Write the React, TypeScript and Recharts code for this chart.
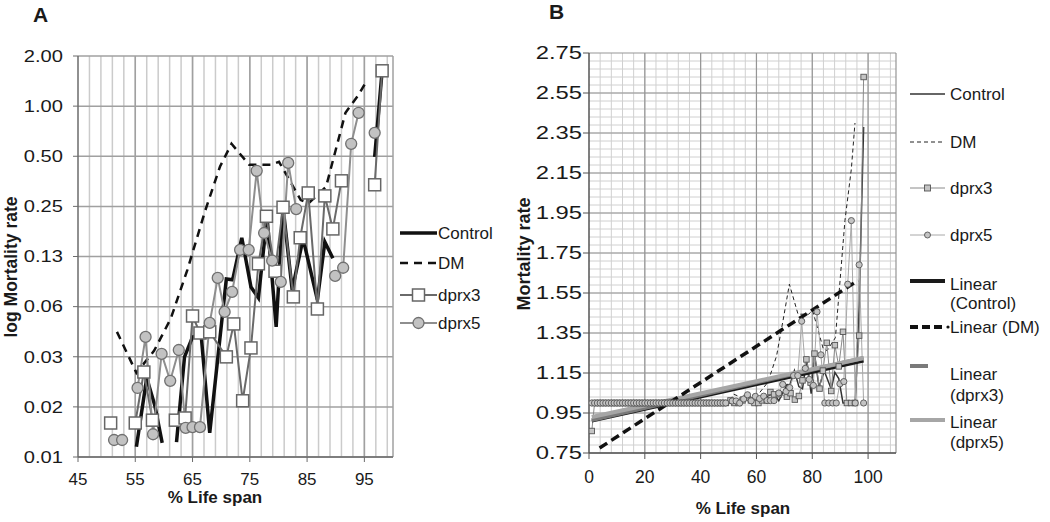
import React from 'react';
import { LineChart, Line, XAxis, YAxis, CartesianGrid } from 'recharts';

const FONT = 'Arial, "Liberation Sans", Helvetica, sans-serif';

// ---------------- Panel A (log scale) ----------------
const aYTickValues = [0.0078125, 0.015625, 0.03125, 0.0625, 0.125, 0.25, 0.5, 1, 2];
const aYTickLabels = ['0.01', '0.02', '0.03', '0.06', '0.13', '0.25', '0.50', '1.00', '2.00'];
const aXTicks = [45, 55, 65, 75, 85, 95];

const aControlX = [55.2, 57.0, 58.4, 59.7, 61.0, 62.2, 63.6, 65.0, 66.5, 68.0, 70.9, 72.0, 73.6, 75.2, 76.5, 78.0, 79.6, 80.8, 82.4, 84.3, 86.8, 88.1, 89.5, 93.0, 96.8, 98.1];
const aControlRate = [0.009, 0.0233, 0.016, 0.0095, null, 0.0096, 0.0312, 0.0411, 0.0423, 0.0109, 0.0917, 0.0905, 0.162, 0.082, 0.0705, 0.216, 0.0472, 0.247, 0.0787, 0.16, 0.0686, 0.153, 0.122, null, 0.496, 1.63];

const aDmX = [51.8, 55.2, 58.3, 61.2, 64.1, 67.2, 69.8, 71.8, 74.9, 78.7, 80.1, 83.9, 85.3, 88.3, 91.7, 94.0, 95.3];
const aDmRate = [0.0441, 0.025, 0.034, 0.053, 0.104, 0.235, 0.434, 0.594, 0.444, 0.444, 0.463, 0.273, 0.262, 0.327, 0.912, 1.17, 1.4];

const aDprx3X = [50.7, 53.0, 55.0, 56.5, 58.0, 60.0, 62.0, 63.7, 65.0, 66.3, 68.0, 70.9, 72.2, 73.75, 75.2, 76.5, 77.9, 79.4, 80.8, 82.6, 83.8, 85.2, 86.8, 88.1, 89.5, 91.0, 94.0, 96.8, 98.1];
const aDprx3Rate = [0.0125, null, 0.0125, 0.0253, 0.013, null, 0.013, 0.0134, 0.0549, 0.0434, 0.0441, 0.0312, 0.0492, 0.017, 0.0353, 0.113, 0.218, 0.102, 0.247, 0.0715, 0.162, 0.301, 0.0605, 0.289, 0.183, 0.356, null, 0.337, 1.63];

const aDprx5X = [51.3, 52.7, 54.0, 55.4, 56.8, 58.1, 59.6, 61.1, 62.6, 63.8, 65.0, 66.3, 68.0, 69.4, 70.6, 71.9, 73.3, 74.8, 76.2, 77.5, 78.9, 80.4, 81.7, 83.1, 86.0, 89.9, 91.3, 92.7, 94.0, 95.5, 96.8];
const aDprx5Rate = [0.00988, 0.00988, null, 0.0203, 0.0411, 0.0107, 0.0325, 0.0224, 0.0343, 0.0117, 0.0118, 0.0118, 0.0499, 0.093, 0.0581, 0.0766, 0.137, 0.137, 0.409, 0.173, 0.118, 0.088, 0.456, 0.241, null, 0.0956, 0.107, 0.594, 0.912, null, 0.691];

// ---------------- Panel B (linear scale) ----------------
const bYTicks = [0.75, 0.95, 1.15, 1.35, 1.55, 1.75, 1.95, 2.15, 2.35, 2.55, 2.75];
const bXTicks = [0, 20, 40, 60, 80, 100];

const bControlX = [1, 2, 3, 4, 5, 6, 7, 8, 9, 10, 11, 12, 13, 14, 15, 16, 17, 18, 19, 20, 21, 22, 23, 24, 25, 26, 27, 28, 29, 30, 31, 32, 33, 34, 35, 36, 37, 38, 39, 40, 41, 42, 43, 44, 45, 46, 47, 48, 49, 50, 51, 52, 53, 54,
  55.2, 57.0, 58.4, 59.7, 61.0, 62.2, 63.6, 65.0, 66.5, 68.0, 70.9, 72.0, 73.6, 75.2, 76.5, 78.0, 79.6, 80.8, 82.4, 84.3, 86.8, 88.1, 89.5, 91.0, 92.5, 94.0, 95.4, 96.8, 98.4];
const bControlRate = [1, 1, 1, 1, 1, 1, 1, 1, 1, 1, 1, 1, 1, 1, 1, 1, 1, 1, 1, 1, 1, 1, 1, 1, 1, 1, 1, 1, 1, 1, 1, 1, 1, 1, 1, 1, 1, 1, 1, 1, 1, 1, 1, 1, 1, 1, 1, 1, 1, 1, 1, 1, 1, 1,
  1.009, 1.023, 1.016, 1.01, 1.0, 1.01, 1.031, 1.041, 1.042, 1.011, 1.092, 1.091, 1.162, 1.082, 1.071, 1.216, 1.047, 1.247, 1.079, 1.16, 1.069, 1.153, 1.122, 1.0, 1.0, 1.0, 1.0, 1.496, 2.38];

const bDmX = [1, 50, 51.8, 55.2, 58.3, 61.2, 64.1, 67.2, 69.8, 71.8, 74.9, 78.7, 80.1, 83.9, 85.3, 88.3, 91.7, 94.0, 95.3];
const bDmRate = [1, 1, 1.044, 1.025, 1.034, 1.053, 1.104, 1.235, 1.434, 1.594, 1.444, 1.444, 1.463, 1.273, 1.262, 1.327, 1.912, 2.17, 2.4];

const bDprx3X = [1, 2, 3, 4, 5, 6, 7, 8, 9, 10, 11, 12, 13, 14, 15, 16, 17, 18, 19, 20, 21, 22, 23, 24, 25, 26, 27, 28, 29, 30, 31, 32, 33, 34, 35, 36, 37, 38, 39, 40, 41, 42, 43, 44, 45, 46, 47, 48, 49,
  50.7, 52.1, 53.6, 55.0, 56.5, 58.0, 59.3, 60.7, 62.0, 63.7, 65.0, 66.3, 68.0, 70.9, 72.2, 73.75, 75.2, 76.5, 77.9, 79.4, 80.8, 82.6, 83.8, 85.2, 86.8, 88.1, 89.5, 91.0, 92.4, 93.9, 95.3, 96.8, 98.4];
const bDprx3Rate = [0.86, 1, 1, 1, 1, 1, 1, 1, 1, 1, 1, 1, 1, 1, 1, 1, 1, 1, 1, 1, 1, 1, 1, 1, 1, 1, 1, 1, 1, 1, 1, 1, 1, 1, 1, 1, 1, 1, 1, 1, 1, 1, 1, 1, 1, 1, 1, 1, 1,
  1.013, 1.0, 1.0, 1.013, 1.025, 1.013, 1.0, 1.0, 1.013, 1.013, 1.055, 1.043, 1.044, 1.031, 1.049, 1.017, 1.035, 1.113, 1.218, 1.102, 1.247, 1.072, 1.162, 1.301, 1.06, 1.289, 1.183, 1.356, 1.0, 1.0, 1.0, 1.337, 2.63];

const bDprx5X = [1, 2, 3, 4, 5, 6, 7, 8, 9, 10, 11, 12, 13, 14, 15, 16, 17, 18, 19, 20, 21, 22, 23, 24, 25, 26, 27, 28, 29, 30, 31, 32, 33, 34, 35, 36, 37, 38, 39, 40, 41, 42, 43, 44, 45, 46, 47, 48, 49,
  51.3, 52.7, 54.0, 55.4, 56.8, 58.1, 59.6, 61.1, 62.6, 63.8, 65.0, 66.3, 68.0, 69.4, 70.6, 71.9, 73.3, 74.8, 76.2, 77.5, 78.9, 80.4, 81.7, 83.1, 84.5, 85.9, 87.3, 88.6, 89.9, 91.3, 92.7, 94.0, 95.4, 96.8, 98.4];
const bDprx5Rate = [1, 1, 1, 1, 1, 1, 1, 1, 1, 1, 1, 1, 1, 1, 1, 1, 1, 1, 1, 1, 1, 1, 1, 1, 1, 1, 1, 1, 1, 1, 1, 1, 1, 1, 1, 1, 1, 1, 1, 1, 1, 1, 1, 1, 1, 1, 1, 1, 1,
  1.01, 1.01, 1.0, 1.02, 1.041, 1.011, 1.033, 1.022, 1.034, 1.012, 1.012, 1.012, 1.05, 1.093, 1.058, 1.077, 1.137, 1.137, 1.409, 1.173, 1.118, 1.088, 1.456, 1.241, 1.0, 1.0, 1.0, 1.0, 1.096, 1.107, 1.594, 1.912, 1.0, 1.691, 1.0];

// linear trendline end points
const bTrendControlX = [1, 98.4];
const bTrendControlRate = [0.91, 1.21];
const bTrendDmX = [3.8, 96.4];
const bTrendDmRate = [0.775, 1.613];
const bTrendDprx3X = [1, 98.4];
const bTrendDprx3Rate = [0.915, 1.225];
const bTrendDprx5X = [1, 98.4];
const bTrendDprx5Rate = [0.93, 1.225];

const zip = (xs: number[], ys: (number | null)[]) => xs.map((x, i) => ({ x, y: ys[i] }));

// grid helpers (styling only)
const range = (a: number, b: number, s: number) => {
  const out: number[] = [];
  for (let v = a; v <= b + 1e-9; v += s) out.push(Math.round(v * 1000) / 1000);
  return out;
};
const aGridMinorX = range(47, 99, 2);
const aGridMajorX = [55, 65, 75, 85, 95, 100];
const bGridMinorX = range(4, 108, 4);
const bGridMajorX = [20, 40, 60, 80, 100, 110];
const bGridMinorY = range(0.79, 2.71, 0.04);

const squareDot = (size: number, fill: string, stroke: string, sw: number) => (p: any) => {
  const k = `sq-${p.index}`;
  if (p.cx == null || p.cy == null || p.payload == null || p.payload.y == null || isNaN(p.cy)) return <g key={k} />;
  return <rect key={k} x={p.cx - size / 2} y={p.cy - size / 2} width={size} height={size} fill={fill} stroke={stroke} strokeWidth={sw} />;
};
const circleDot = (r: number, fill: string, stroke: string, sw: number) => (p: any) => {
  const k = `ci-${p.index}`;
  if (p.cx == null || p.cy == null || p.payload == null || p.payload.y == null || isNaN(p.cy)) return <g key={k} />;
  return <circle key={k} cx={p.cx} cy={p.cy} r={r} fill={fill} stroke={stroke} strokeWidth={sw} />;
};

const aYTick = (p: any) => (
  <text key={`ay-${p.index}`} transform={`translate(${p.x - 8},${p.y}) scale(1.22,1)`} textAnchor="end" dominantBaseline="central" fontSize={16.5} fontFamily={FONT} fill="#1a1a1a">
    {aYTickLabels[p.index]}
  </text>
);
const aXTick = (p: any) => (
  <text key={`ax-${p.index}`} x={p.x} y={p.y + 15} textAnchor="middle" dominantBaseline="central" fontSize={17} fontFamily={FONT} fill="#1a1a1a">
    {p.payload.value}
  </text>
);
const bYTick = (p: any) => (
  <text key={`by-${p.index}`} transform={`translate(${p.x + 1},${p.y}) scale(1.36,1)`} textAnchor="end" dominantBaseline="central" fontSize={17.5} fontFamily={FONT} fill="#1a1a1a">
    {Number(p.payload.value).toFixed(2)}
  </text>
);
const bXTick = (p: any) => (
  <text key={`bx-${p.index}`} x={p.x} y={p.y + 16} textAnchor="middle" dominantBaseline="central" fontSize={17.5} fontFamily={FONT} fill="#1a1a1a">
    {p.payload.value}
  </text>
);

export default function App() {
  const aControl = zip(aControlX, aControlRate);
  const aDm = zip(aDmX, aDmRate);
  const aDprx3 = zip(aDprx3X, aDprx3Rate);
  const aDprx5 = zip(aDprx5X, aDprx5Rate);

  const bControl = zip(bControlX, bControlRate);
  const bDm = zip(bDmX, bDmRate);
  const bDprx3 = zip(bDprx3X, bDprx3Rate);
  const bDprx5 = zip(bDprx5X, bDprx5Rate);
  const bTC = zip(bTrendControlX, bTrendControlRate);
  const bTD = zip(bTrendDmX, bTrendDmRate);
  const bT3 = zip(bTrendDprx3X, bTrendDprx3Rate);
  const bT5 = zip(bTrendDprx5X, bTrendDprx5Rate);

  const txt = { fontFamily: FONT, fill: '#1a1a1a' } as const;

  return (
    <div style={{ position: 'absolute', left: 0, top: 0, width: 1050, height: 522, background: '#fff', overflow: 'hidden' }}>
      <div style={{ position: 'absolute', left: 0, top: 0 }}>
        <LineChart width={500} height={522} margin={{ top: 56, right: 107, bottom: 35, left: 8 }}>
          <CartesianGrid horizontal={false} vertical verticalValues={aGridMinorX} stroke="#cbcbcb" strokeWidth={1.5} />
          <CartesianGrid horizontal={false} vertical verticalValues={aGridMajorX} stroke="#a0a0a0" strokeWidth={1.5} />
          <CartesianGrid vertical={false} horizontal horizontalValues={aYTickValues} stroke="#a0a0a0" strokeWidth={1.5} />
          <XAxis type="number" dataKey="x" domain={[45, 100]} ticks={aXTicks} interval={0} allowDataOverflow height={30} tickSize={5}
            axisLine={{ stroke: '#6b6b6b', strokeWidth: 1.5 }} tickLine={{ stroke: '#6b6b6b' }} tick={aXTick} />
          <YAxis type="number" scale="log" domain={[0.0078125, 2]} ticks={aYTickValues} interval={0} allowDataOverflow width={70} tickSize={5}
            axisLine={{ stroke: '#6b6b6b', strokeWidth: 1.5 }} tickLine={{ stroke: '#6b6b6b' }} tick={aYTick} />
          <Line data={aControl} dataKey="y" type="linear" stroke="#111" strokeWidth={3.5} dot={false} connectNulls={false} isAnimationActive={false} />
          <Line data={aDm} dataKey="y" type="linear" stroke="#111" strokeWidth={2.5} strokeDasharray="8 6" dot={false} connectNulls={false} isAnimationActive={false} />
          <Line data={aDprx3} dataKey="y" type="linear" stroke="#6a6a6a" strokeWidth={2} dot={squareDot(12, '#ffffff', '#666', 1.5)} connectNulls={false} isAnimationActive={false} />
          <Line data={aDprx5} dataKey="y" type="linear" stroke="#8e8e8e" strokeWidth={2} dot={circleDot(5.5, '#c2c2c2', '#707070', 1.3)} connectNulls={false} isAnimationActive={false} />
        </LineChart>
      </div>

      <div style={{ position: 'absolute', left: 500, top: 0 }}>
        <LineChart width={550} height={522} margin={{ top: 53, right: 154, bottom: 39, left: 9 }}>
          <CartesianGrid vertical={false} horizontal horizontalValues={bGridMinorY} stroke="#d0d0d0" strokeWidth={1} />
          <CartesianGrid horizontal={false} vertical verticalValues={bGridMinorX} stroke="#d0d0d0" strokeWidth={1} />
          <CartesianGrid vertical={false} horizontal horizontalValues={bYTicks} stroke="#959595" strokeWidth={1.2} />
          <CartesianGrid horizontal={false} vertical verticalValues={bGridMajorX} stroke="#959595" strokeWidth={1.2} />
          <XAxis type="number" dataKey="x" domain={[0, 110]} ticks={bXTicks} interval={0} allowDataOverflow height={30} tickSize={6}
            axisLine={{ stroke: '#555', strokeWidth: 1.5 }} tickLine={{ stroke: '#555' }} tick={bXTick} />
          <YAxis type="number" domain={[0.75, 2.75]} ticks={bYTicks} interval={0} allowDataOverflow width={80} tickSize={6}
            axisLine={{ stroke: '#555', strokeWidth: 1.5 }} tickLine={{ stroke: '#555' }} tick={bYTick} />
          <Line data={bControl} dataKey="y" type="linear" stroke="#333" strokeWidth={1.5} dot={false} isAnimationActive={false} />
          <Line data={bDm} dataKey="y" type="linear" stroke="#222" strokeWidth={1} strokeDasharray="4 3" dot={false} isAnimationActive={false} />
          <Line data={bDprx3} dataKey="y" type="linear" stroke="#8a8a8a" strokeWidth={1} dot={squareDot(5.5, '#c4c4c4', '#555', 0.9)} isAnimationActive={false} />
          <Line data={bDprx5} dataKey="y" type="linear" stroke="#a8a8a8" strokeWidth={1} dot={circleDot(3.1, '#c4c4c4', '#555', 0.9)} isAnimationActive={false} />
          <Line data={bTC} dataKey="y" type="linear" stroke="#1a1a1a" strokeWidth={3} dot={false} isAnimationActive={false} />
          <Line data={bT3} dataKey="y" type="linear" stroke="#7a7a7a" strokeWidth={4} dot={false} isAnimationActive={false} />
          <Line data={bT5} dataKey="y" type="linear" stroke="#a6a6a6" strokeWidth={4} dot={false} isAnimationActive={false} />
          <Line data={bTD} dataKey="y" type="linear" stroke="#111" strokeWidth={3.5} strokeDasharray="9 5" dot={false} isAnimationActive={false} />
        </LineChart>
      </div>

      <svg width={1050} height={522} style={{ position: 'absolute', left: 0, top: 0, pointerEvents: 'none' }}>
        {/* panel titles */}
        <text x={40.5} y={14} textAnchor="middle" dominantBaseline="central" fontSize={21} fontWeight="bold" {...txt}>A</text>
        <text x={556.5} y={11} textAnchor="middle" dominantBaseline="central" fontSize={21} fontWeight="bold" {...txt}>B</text>

        {/* axis titles */}
        <text transform="translate(11,267) rotate(-90)" textAnchor="middle" dominantBaseline="central" fontSize={17.5} fontWeight="bold" {...txt}>log Mortality rate</text>
        <text x={215} y={497} textAnchor="middle" dominantBaseline="central" fontSize={17} fontWeight="bold" {...txt}>% Life span</text>
        <text transform="translate(524,254) rotate(-90)" textAnchor="middle" dominantBaseline="central" fontSize={18} fontWeight="bold" {...txt}>Mortality rate</text>
        <text x={743} y={508} textAnchor="middle" dominantBaseline="central" fontSize={17} fontWeight="bold" {...txt}>% Life span</text>

        {/* legend A */}
        <line x1={400} x2={437} y1={233} y2={233} stroke="#111" strokeWidth={3.5} />
        <text x={438} y={233} dominantBaseline="central" fontSize={17} {...txt}>Control</text>
        <line x1={400} x2={437} y1={263} y2={263} stroke="#111" strokeWidth={2.5} strokeDasharray="8 6" />
        <text x={438} y={263} dominantBaseline="central" fontSize={17} {...txt}>DM</text>
        <line x1={400} x2={437} y1={295} y2={295} stroke="#6a6a6a" strokeWidth={2} />
        <rect x={412.5} y={289} width={12} height={12} fill="#fff" stroke="#666" strokeWidth={1.5} />
        <text x={438} y={295} dominantBaseline="central" fontSize={17} {...txt}>dprx3</text>
        <line x1={400} x2={437} y1={323} y2={323} stroke="#8e8e8e" strokeWidth={2} />
        <circle cx={418.5} cy={323} r={5.5} fill="#c2c2c2" stroke="#707070" strokeWidth={1.3} />
        <text x={438} y={323} dominantBaseline="central" fontSize={17} {...txt}>dprx5</text>

        {/* legend B */}
        <line x1={910} x2={945} y1={94} y2={94} stroke="#333" strokeWidth={1.5} />
        <text x={950} y={94} dominantBaseline="central" fontSize={17} {...txt}>Control</text>
        <line x1={910} x2={945} y1={142} y2={142} stroke="#222" strokeWidth={1} strokeDasharray="4 3" />
        <text x={950} y={142} dominantBaseline="central" fontSize={17} {...txt}>DM</text>
        <line x1={910} x2={945} y1={188} y2={188} stroke="#8a8a8a" strokeWidth={1} />
        <rect x={924.5} y={185} width={6} height={6} fill="#c4c4c4" stroke="#555" strokeWidth={0.9} />
        <text x={950} y={188} dominantBaseline="central" fontSize={17} {...txt}>dprx3</text>
        <line x1={910} x2={945} y1={235} y2={235} stroke="#a8a8a8" strokeWidth={1} />
        <circle cx={927.5} cy={235} r={3} fill="#c4c4c4" stroke="#555" strokeWidth={0.9} />
        <text x={950} y={235} dominantBaseline="central" fontSize={17} {...txt}>dprx5</text>

        <line x1={910} x2={945} y1={281} y2={281} stroke="#1a1a1a" strokeWidth={4} />
        <text x={950} y={284} dominantBaseline="central" fontSize={17} {...txt}>Linear</text>
        <text x={950} y={303} dominantBaseline="central" fontSize={17} {...txt}>(Control)</text>
        <line x1={910} x2={945} y1={327} y2={327} stroke="#111" strokeWidth={4} strokeDasharray="8 4" />
        <circle cx={948} cy={327} r={1.6} fill="#111" />
        <text x={950} y={327} dominantBaseline="central" fontSize={17} {...txt}>Linear (DM)</text>
        <line x1={910} x2={928} y1={366} y2={366} stroke="#7a7a7a" strokeWidth={4} />
        <text x={950} y={374} dominantBaseline="central" fontSize={17} {...txt}>Linear</text>
        <text x={950} y={395} dominantBaseline="central" fontSize={17} {...txt}>(dprx3)</text>
        <line x1={910} x2={945} y1={420} y2={420} stroke="#a6a6a6" strokeWidth={4} />
        <text x={950} y={422} dominantBaseline="central" fontSize={17} {...txt}>Linear</text>
        <text x={950} y={442} dominantBaseline="central" fontSize={17} {...txt}>(dprx5)</text>
      </svg>
    </div>
  );
}
